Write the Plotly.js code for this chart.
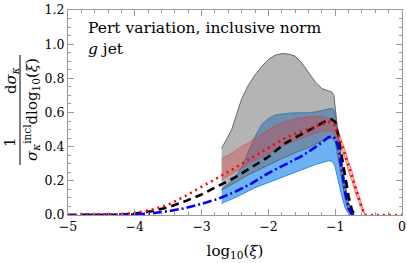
<!DOCTYPE html>
<html><head><meta charset="utf-8">
<script src="https://cdn.plot.ly/plotly-3.0.1.min.js"></script>
<style>html,body{margin:0;padding:0;background:#fff}#chart{width:407px;height:263px}</style>
</head><body><div id="chart"></div>
<script>
// ---- data ----
const bandX = [-2.7,-2.6,-2.55,-2.5,-2.4,-2.3,-2.2,-2.1,-2.0,-1.9,-1.8,-1.7,-1.6,-1.5,-1.4,-1.3,-1.2,-1.1,-1.05,-1.02,-1.0,-0.95,-0.9,-0.85,-0.8,-0.75,-0.72];
const grayUpper = [0.39,0.46,0.50,0.56,0.68,0.76,0.82,0.87,0.91,0.935,0.945,0.942,0.93,0.89,0.835,0.78,0.74,0.728,0.72,0.70,0.62,0.45,0.30,0.17,0.07,0.02,0.0];
const grayLower = [0.145,0.165,0.178,0.19,0.212,0.235,0.255,0.275,0.295,0.312,0.33,0.347,0.365,0.38,0.395,0.415,0.435,0.45,0.45,0.44,0.43,0.33,0.20,0.09,0.02,0.0,0.0];
const blueUpper = [0.15,0.18,0.20,0.22,0.28,0.37,0.46,0.53,0.565,0.585,0.592,0.596,0.598,0.597,0.598,0.603,0.612,0.623,0.625,0.615,0.59,0.47,0.32,0.17,0.07,0.015,0.0];
const blueLower = [0.068,0.085,0.092,0.10,0.12,0.14,0.16,0.175,0.19,0.205,0.22,0.235,0.25,0.265,0.28,0.295,0.308,0.318,0.315,0.30,0.28,0.20,0.11,0.04,0.008,0.0,0.0];
const redX = [-2.7,-2.6,-2.5,-2.4,-2.3,-2.2,-2.1,-2.0,-1.9,-1.8,-1.7,-1.6,-1.5,-1.4,-1.3,-1.2,-1.1,-1.05,-1.0,-0.95,-0.9,-0.85,-0.8,-0.75,-0.7,-0.65,-0.6,-0.55];
const redUpper = [0.33,0.35,0.375,0.40,0.425,0.45,0.475,0.50,0.52,0.54,0.553,0.563,0.57,0.575,0.577,0.575,0.568,0.56,0.54,0.49,0.44,0.38,0.31,0.26,0.18,0.12,0.06,0.01];
const redLower = [0.205,0.225,0.25,0.275,0.30,0.32,0.34,0.36,0.38,0.40,0.42,0.435,0.45,0.465,0.48,0.49,0.495,0.49,0.47,0.42,0.38,0.33,0.25,0.20,0.13,0.08,0.03,0.0];

const blackX = [-5,-4.5,-4.25,-4,-3.75,-3.5,-3.25,-3,-2.75,-2.5,-2.25,-2,-1.75,-1.5,-1.25,-1.15,-1.1,-1.05,-1.0,-0.95,-0.9,-0.85,-0.8,-0.75,-0.7];
const blackY = [0,0,0.002,0.008,0.022,0.045,0.08,0.12,0.17,0.22,0.28,0.34,0.42,0.475,0.525,0.548,0.557,0.56,0.545,0.46,0.34,0.22,0.11,0.03,0.0];
const redLineX = [-5,-4.5,-4.25,-4,-3.75,-3.5,-3.25,-3,-2.75,-2.5,-2.25,-2,-1.75,-1.5,-1.25,-1.15,-1.1,-1.05,-1.0,-0.95,-0.9,-0.85,-0.8,-0.75,-0.7,-0.65,-0.6,-0.55,-0.5,0];
const redLineY = [0,0,0.003,0.012,0.03,0.06,0.11,0.165,0.22,0.275,0.335,0.395,0.45,0.49,0.525,0.54,0.545,0.54,0.52,0.46,0.41,0.35,0.29,0.23,0.165,0.10,0.04,0.0,0,0];
const blueLineX = [-5,-4.5,-4.25,-4,-3.75,-3.5,-3.25,-3,-2.75,-2.5,-2.25,-2,-1.75,-1.5,-1.25,-1.15,-1.1,-1.05,-1.0,-0.95,-0.9,-0.85,-0.8,-0.75,-0.72];
const blueLineY = [0,0,0.001,0.003,0.01,0.022,0.04,0.065,0.095,0.135,0.185,0.245,0.295,0.345,0.41,0.44,0.455,0.46,0.45,0.39,0.26,0.13,0.04,0.005,0.0];

const xTicks = [-5,-4,-3,-2,-1,0];
const yTicks = [0,0.2,0.4,0.6,0.8,1.0,1.2];

// ---- helpers ----
function band(x, up, lo) {
  return { x: x.concat(x.slice().reverse()), y: up.concat(lo.slice().reverse()) };
}
const gB = band(bandX, grayUpper, grayLower);
const bB = band(bandX, blueUpper, blueLower);
const rB = band(redX, redUpper, redLower);

const serif = "DejaVu Serif";
const traces = [
  {x: bB.x, y: bB.y, type:'scatter', mode:'lines', fill:'toself', fillcolor:'rgba(85,165,245,0.85)', line:{color:'rgb(45,135,230)', width:1}, hoverinfo:'skip'},
  {x: gB.x, y: gB.y, type:'scatter', mode:'lines', fill:'toself', fillcolor:'rgba(105,105,105,0.5)', line:{color:'#666', width:1}, hoverinfo:'skip'},
  {x: rB.x, y: rB.y, type:'scatter', mode:'lines', fill:'toself', fillcolor:'rgba(220,55,60,0.34)', line:{color:'rgba(220,55,60,0.55)', width:1}, hoverinfo:'skip'},
  {x: blackX, y: blackY, type:'scatter', mode:'lines', line:{color:'#000', width:2.6, dash:'8px,5px'}},
  {x: blueLineX, y: blueLineY, type:'scatter', mode:'lines', line:{color:'#0000ff', width:2.6, dash:'9px,3px,2px,3px'}},
  {x: redLineX, y: redLineY, type:'scatter', mode:'lines', line:{color:'#ff0000', width:2.6, dash:'2px,4px'}}
];

const L = 68, T = 10, W = 407, H = 263, R = 5, B = 48;
const pw = W - L - R, ph = H - T - B;
const px = v => (v - L) / pw, py = v => (H - B - v) / ph;

const layout = {
  width: W, height: H,
  margin: {l: L, r: R, t: T, b: B},
  paper_bgcolor: '#fff', plot_bgcolor: '#fff',
  showlegend: false,
  font: {family: serif, color: '#000', size: 12},
  xaxis: {
    range: [-5, 0], tickvals: xTicks, ticktext: xTicks.map(v => v < 0 ? '\u2212' + Math.abs(v) : String(v)),
    ticks: 'inside', ticklen: 6, tickcolor: '#999', showline: true, linecolor: '#999', linewidth: 1, mirror: 'allticks',
    showgrid: false, zeroline: false, tickfont: {size: 12.5, family: serif, color: '#000'},
    minor: {dtick: 0.2, ticks: 'inside', ticklen: 3, tickcolor: '#999', showgrid: false},
    title: {text: 'log<sub>10</sub>(<i>ξ</i>)', font: {size: 15, family: serif, color: '#000'}, standoff: 12}
  },
  yaxis: {
    range: [0, 1.2], tickvals: yTicks, ticktext: yTicks.map(v => v.toFixed(1)),
    ticks: 'inside', ticklen: 6, tickcolor: '#999', showline: true, linecolor: '#999', linewidth: 1, mirror: 'allticks',
    showgrid: false, zeroline: false, tickfont: {size: 12.5, family: serif, color: '#000'},
    minor: {dtick: 0.05, ticks: 'inside', ticklen: 3, tickcolor: '#999', showgrid: false}
  },
  shapes: [
    {type: 'line', xref: 'paper', yref: 'paper', x0: px(20), x1: px(20), y0: py(55), y1: py(165), line: {color: '#000', width: 1}}
  ],
  annotations: [
    {xref:'paper', yref:'paper', x: px(86), y: py(28), xanchor:'left', yanchor:'middle', showarrow:false,
     text: 'Pert variation, inclusive norm', font:{size:15.5, family: serif, color:'#000'}},
    {xref:'paper', yref:'paper', x: px(86), y: py(49), xanchor:'left', yanchor:'middle', showarrow:false,
     text: '<i>g</i> jet', font:{size:15.5, family: serif, color:'#000'}},
    {xref:'paper', yref:'paper', x: px(10), y: py(142), xanchor:'center', yanchor:'middle', showarrow:false, textangle:-90,
     text: '1', font:{size:15, family: serif, color:'#000'}},
    {xref:'paper', yref:'paper', x: px(11), y: py(80), xanchor:'center', yanchor:'middle', showarrow:false, textangle:-90,
     text: 'd<i>σ</i><sub><i>κ</i></sub>', font:{size:15, family: serif, color:'#000'}},
    {xref:'paper', yref:'paper', x: px(31), y: py(110), xanchor:'center', yanchor:'middle', showarrow:false, textangle:-90,
     text: '<i>σ</i><sub><i>κ</i></sub><sup>incl</sup>dlog<sub>10</sub>(<i>ξ</i>)', font:{size:15, family: serif, color:'#000'}}
  ]
};

Plotly.newPlot('chart', traces, layout, {staticPlot: true, displayModeBar: false});
</script>
</body></html>
